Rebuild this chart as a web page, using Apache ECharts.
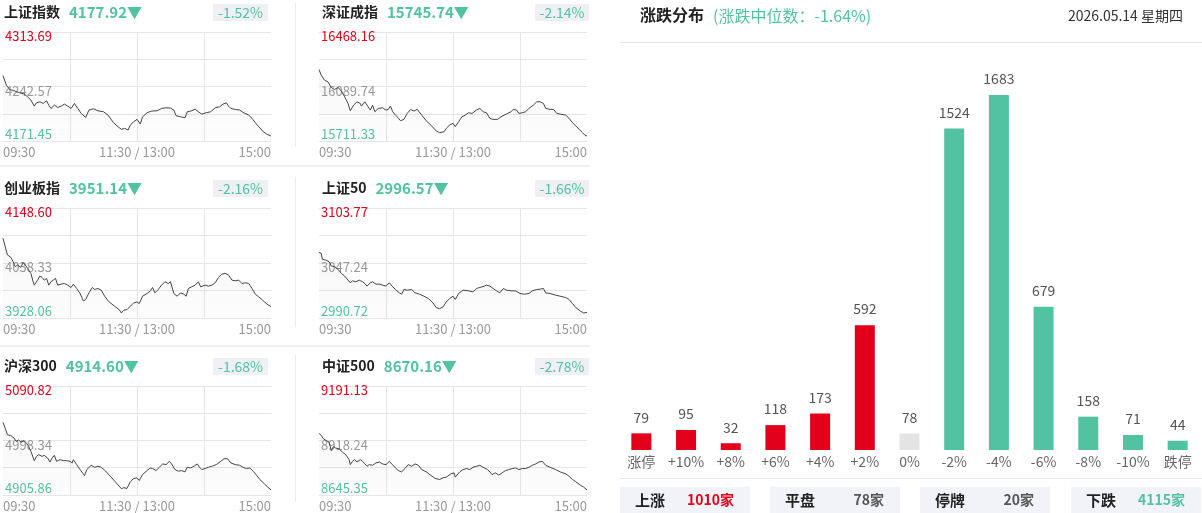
<!DOCTYPE html>
<html><head><meta charset="utf-8">
<script src="https://cdn.jsdelivr.net/npm/echarts@6/dist/echarts.min.js"></script>
<style>html,body{margin:0;padding:0;background:#fff}#c{width:1202px;height:513px}</style>
</head><body><div id="c"></div>
<script>
// ---------- data ----------
const indexNames = ['上证指数','深证成指','创业板指','上证50','沪深300','中证500'];
const indexCloses = ['4177.92','15745.74','3951.14','2996.57','4914.60','8670.16'];
const indexPcts = ['-1.52%','-2.14%','-2.16%','-1.66%','-1.68%','-2.78%'];
const axisHighs = [4313.69,16468.16,4148.60,3103.77,5090.82,9191.13];
const axisPrevs = [4242.57,16089.74,4038.33,3047.24,4998.34,8918.24];
const axisLows  = [4171.45,15711.33,3928.06,2990.72,4905.86,8645.35];
const timeTickLabels = ['09:30','11:30 / 13:00','15:00'];

// [minute since 09:30 (trading minutes), price]
const lineSH = [[0,4256.88],[3,4244.30],[6,4238.67],[10,4236.93],[15,4234.33],[19,4232.60],[22,4229.13],[25,4224.79],[28,4216.98],[30,4221.32],[33,4222.62],[36,4220.45],[39,4223.92],[41,4218.28],[43,4213.95],[46,4218.28],[49,4215.25],[52,4216.98],[55,4219.59],[58,4216.98],[61,4213.95],[64,4220.45],[67,4213.95],[70,4207.44],[74,4202.24],[77,4211.78],[81,4213.51],[85,4210.91],[90,4209.61],[94,4205.28],[99,4195.30],[103,4190.10],[106,4186.63],[109,4187.93],[112,4185.76],[114,4192.26],[117,4196.60],[120,4199.64],[123,4193.57],[125,4203.11],[129,4208.31],[133,4210.48],[138,4210.91],[142,4213.95],[146,4214.82],[150,4214.38],[153,4211.78],[155,4204.41],[159,4203.11],[163,4201.81],[165,4209.61],[169,4210.91],[172,4213.08],[175,4209.61],[178,4206.58],[182,4208.31],[186,4209.61],[190,4214.82],[194,4216.12],[197,4219.59],[200,4221.32],[202,4216.98],[204,4213.95],[208,4212.65],[212,4211.78],[215,4208.74],[220,4205.28],[223,4200.94],[226,4195.30],[229,4190.10],[233,4183.59],[236,4180.56],[240,4177.92]];
const lineSZ = [[0,16207.42],[2,16168.19],[5,16133.58],[8,16122.04],[11,16082.82],[14,16068.97],[17,16082.82],[20,16059.74],[23,16018.21],[26,15972.06],[28,15921.30],[31,15960.53],[34,15983.60],[37,15972.06],[38,15953.60],[41,15983.60],[44,15948.99],[46,15925.91],[48,15960.53],[50,15914.38],[53,15937.45],[57,15942.07],[60,15925.91],[62,15930.53],[64,15953.60],[66,15914.38],[70,15879.77],[73,15852.08],[76,15861.31],[79,15902.84],[82,15930.53],[85,15918.99],[88,15930.53],[92,15891.30],[96,15852.08],[101,15815.16],[105,15780.55],[108,15769.01],[112,15775.93],[114,15799.01],[117,15822.08],[120,15833.62],[122,15810.54],[125,15845.16],[128,15879.77],[131,15891.30],[134,15907.46],[137,15902.84],[141,15925.91],[144,15937.45],[147,15914.38],[150,15907.46],[153,15868.23],[156,15861.31],[160,15861.31],[163,15879.77],[166,15891.30],[169,15902.84],[172,15914.38],[174,15930.53],[177,15925.91],[179,15902.84],[182,15907.46],[185,15914.38],[189,15944.37],[192,15960.53],[195,15983.60],[198,15983.60],[201,15972.06],[203,15937.45],[207,15930.53],[210,15930.53],[213,15902.84],[216,15898.23],[221,15891.30],[224,15868.23],[227,15838.23],[230,15815.16],[233,15792.09],[236,15769.01],[238,15752.86],[240,15745.74]];
const lineCYB = [[0,4088.09],[2,4071.28],[4,4054.47],[7,4049.76],[9,4041.02],[11,4030.93],[13,4034.30],[16,4029.59],[18,4039.00],[20,4034.30],[22,4027.57],[25,4017.49],[27,4000.68],[28,3993.95],[31,4004.04],[33,4012.11],[35,4009.42],[37,4004.04],[39,4007.40],[41,3993.95],[43,4000.68],[45,4004.04],[47,4007.40],[49,3993.95],[52,3995.97],[55,3997.31],[58,3993.95],[61,3989.25],[63,3995.97],[66,3987.23],[69,3977.14],[72,3962.35],[74,3965.04],[77,3978.49],[80,3989.25],[82,3985.21],[85,3987.23],[88,3983.87],[91,3971.76],[95,3960.33],[100,3951.59],[104,3944.87],[106,3938.15],[108,3943.52],[111,3944.87],[114,3951.59],[117,3958.32],[120,3960.33],[122,3956.97],[125,3971.76],[129,3977.14],[132,3982.52],[134,3989.25],[136,3978.49],[139,3985.21],[142,3993.95],[145,4000.68],[148,3997.31],[150,4000.68],[153,3977.14],[156,3971.76],[159,3978.49],[162,3975.80],[164,3971.76],[166,3987.23],[169,3990.59],[172,3993.95],[175,4000.68],[177,3990.59],[181,3993.95],[184,3991.94],[187,3993.95],[190,3998.66],[193,4009.42],[196,4016.14],[199,4017.49],[202,4014.12],[205,4004.04],[208,4002.69],[211,4004.04],[214,3997.31],[217,3998.66],[220,3997.31],[223,3987.23],[226,3975.80],[229,3970.42],[232,3965.04],[235,3958.32],[238,3953.61],[240,3951.14]];
const lineSZ50 = [[0,3057.92],[2,3057.24],[3,3051.03],[6,3050.34],[9,3048.62],[11,3044.14],[14,3043.45],[17,3040.69],[20,3036.56],[23,3033.80],[26,3029.66],[28,3026.91],[30,3028.97],[33,3027.94],[36,3029.66],[39,3027.94],[41,3026.22],[43,3023.46],[46,3026.91],[48,3027.94],[51,3025.53],[54,3025.53],[57,3024.49],[60,3023.46],[63,3026.91],[66,3022.77],[69,3019.32],[72,3016.57],[74,3015.19],[76,3020.01],[79,3019.32],[83,3020.01],[86,3016.57],[90,3015.19],[94,3013.12],[98,3010.71],[102,3006.23],[105,3001.40],[108,3000.37],[111,3002.09],[112,3002.09],[114,3007.26],[117,3010.71],[120,3013.12],[122,3009.67],[125,3015.88],[129,3019.32],[134,3018.63],[138,3017.60],[141,3021.05],[144,3022.08],[148,3023.46],[150,3024.49],[153,3023.46],[156,3021.05],[159,3018.63],[162,3016.57],[165,3021.05],[168,3019.32],[172,3018.63],[176,3018.63],[180,3015.88],[184,3015.19],[188,3015.88],[191,3018.63],[195,3020.01],[198,3020.36],[201,3021.05],[203,3016.57],[207,3015.88],[212,3014.15],[216,3013.12],[221,3011.74],[224,3009.67],[227,3005.54],[230,3001.40],[234,2997.95],[237,2995.89],[240,2996.57]];
const lineHS300 = [[0,5029.17],[2,5019.08],[4,5007.87],[7,5006.75],[10,5002.26],[12,4996.66],[14,4999.46],[16,4995.54],[19,4997.78],[21,4993.86],[23,4988.25],[25,4979.84],[28,4964.15],[30,4971.44],[32,4974.24],[35,4971.44],[37,4973.12],[40,4968.63],[42,4961.91],[44,4968.63],[46,4973.12],[48,4963.03],[51,4965.83],[54,4964.15],[57,4964.15],[60,4963.03],[62,4960.23],[63,4965.83],[66,4957.42],[69,4949.02],[73,4938.93],[75,4949.02],[79,4956.30],[82,4952.94],[85,4954.62],[88,4952.94],[92,4946.22],[96,4937.81],[100,4929.40],[104,4920.99],[106,4916.51],[108,4918.19],[111,4917.07],[114,4928.28],[117,4933.88],[120,4935.01],[122,4930.52],[125,4940.61],[129,4947.34],[132,4951.82],[134,4950.70],[137,4947.34],[140,4952.94],[143,4958.55],[146,4957.42],[149,4963.03],[151,4958.55],[154,4949.02],[157,4946.22],[160,4947.34],[163,4945.09],[165,4952.94],[168,4951.82],[171,4954.62],[174,4958.55],[176,4952.94],[178,4949.02],[181,4950.70],[184,4952.94],[187,4954.62],[191,4957.42],[195,4963.03],[198,4967.51],[201,4967.51],[204,4960.23],[208,4957.42],[212,4956.30],[215,4952.94],[218,4950.70],[221,4951.82],[224,4946.22],[227,4939.49],[230,4932.20],[234,4924.92],[237,4919.31],[240,4914.60]];
const lineZZ500 = [[0,8954.63],[2,8943.05],[4,8926.51],[7,8916.59],[9,8909.97],[11,8866.97],[13,8888.47],[15,8880.20],[18,8876.89],[21,8860.35],[24,8847.12],[27,8822.31],[28,8797.51],[30,8814.05],[32,8822.31],[34,8810.74],[37,8822.31],[39,8814.05],[41,8800.81],[43,8789.24],[45,8797.51],[48,8794.20],[51,8805.78],[54,8810.74],[57,8800.81],[60,8797.51],[63,8814.05],[65,8800.81],[68,8784.28],[71,8767.74],[74,8761.12],[77,8777.66],[80,8797.51],[83,8789.24],[86,8800.81],[89,8794.20],[92,8772.70],[96,8761.12],[100,8744.58],[104,8728.04],[108,8723.08],[111,8731.35],[114,8734.66],[118,8751.20],[121,8756.16],[122,8734.66],[126,8761.12],[129,8772.70],[132,8777.66],[135,8772.70],[138,8784.28],[141,8789.24],[144,8794.20],[147,8784.28],[151,8772.70],[155,8747.89],[158,8756.16],[161,8744.58],[164,8756.16],[167,8767.74],[170,8772.70],[173,8777.66],[176,8780.97],[179,8772.70],[182,8777.66],[185,8777.66],[188,8784.28],[191,8794.20],[194,8800.81],[197,8810.74],[200,8814.05],[203,8794.20],[207,8784.28],[212,8772.70],[216,8761.12],[221,8751.20],[224,8739.62],[227,8723.08],[230,8711.50],[234,8694.97],[237,8685.04],[240,8670.16]];

const distCategories = ['涨停','+10%','+8%','+6%','+4%','+2%','0%','-2%','-4%','-6%','-8%','-10%','跌停'];
const distCounts = [79,95,32,118,173,592,78,1524,1683,679,158,71,44];
const summaryLabels = ['上涨','平盘','停牌','下跌'];
const summaryCounts = [1010,78,20,4115];
const distTitle = '涨跌分布';
const medianPct = '-1.64%';
const dateText = '2026.05.14 星期四';

// ---------- styling / layout ----------
const FONT = '"Microsoft YaHei","Noto Sans CJK SC","Noto Sans",sans-serif';
const GREEN = '#52c3a0', RED = '#e2001b', GRAYBAR = '#e4e4e4', GRID = '#e6e6e6';
const lines = [lineSH, lineSZ, lineCYB, lineSZ50, lineHS300, lineZZ500];
const colGridX = [3, 319], colTitleX = [4, 322], colBox = [[213,268],[535,589]];
const rowGridY = [32, 208, 386], rowGridH = [109, 110, 110], rowTitleY = [12, 188, 366];

const grids = [], xAxes = [], yAxes = [], series = [], graphics = [];

function txt(x, y, text, o) {
  return {type:'text', x:x, y:y, silent:true, z:10,
    style:Object.assign({text:text, fill:'#333', fontSize:14, fontFamily:FONT,
      align:'left', verticalAlign:'middle', textAlign:'left', textVerticalAlign:'middle'}, o || {})};
}
function rect(x, y, w, h, fill) {
  return {type:'rect', silent:true, z:5, shape:{x:x, y:y, width:w, height:h}, style:{fill:fill}};
}
function hline(x1, x2, y, stroke, w) {
  return {type:'line', silent:true, z:5, shape:{x1:x1, y1:y, x2:x2, y2:y}, style:{stroke:stroke, lineWidth:w||1}};
}
function vline(x, y1, y2, stroke) {
  return {type:'line', silent:true, z:5, shape:{x1:x, y1:y1, x2:x, y2:y2}, style:{stroke:stroke, lineWidth:1}};
}

lines.forEach(function (data, i) {
  const col = i % 2, row = Math.floor(i / 2);
  const half = (axisHighs[i] - axisLows[i]) / 2;
  grids.push({left: colGridX[col], top: rowGridY[row], width: 268, height: rowGridH[row]});
  xAxes.push({
    gridIndex: i, type: 'value', min: 0, max: 240, interval: 60,
    axisLine: {show: false}, axisTick: {show: false},
    splitLine: {show: true, showMinLine: false, showMaxLine: false, lineStyle: {color: GRID, width: 1}},
    axisLabel: {
      margin: 5, color: '#999', fontSize: 13, fontFamily: FONT,
      alignMinLabel: 'left', alignMaxLabel: 'right', showMinLabel: true, showMaxLabel: true,
      formatter: function (v) {
        if (v === 0) return timeTickLabels[0];
        if (v === 120) return timeTickLabels[1];
        if (v === 240) return timeTickLabels[2];
        return '';
      }
    }
  });
  yAxes.push({
    gridIndex: i, type: 'value', min: -2, max: 2, interval: 1,
    axisLine: {show: false}, axisTick: {show: false},
    splitLine: {show: true, lineStyle: {color: GRID, width: 1}},
    axisLabel: {
      inside: true, margin: 2, fontSize: 13, fontFamily: FONT,
      showMinLabel: true, showMaxLabel: true,
      formatter: function (v) {
        if (v === 2) return '{hi|' + axisHighs[i].toFixed(2) + '}';
        if (v === 0) return '{mid|' + axisPrevs[i].toFixed(2) + '}';
        if (v === -2) return '{lo|' + axisLows[i].toFixed(2) + '}';
        return '';
      },
      rich: {
        hi: {color: RED, fontSize: 13, fontFamily: FONT, padding: [8, 0, 0, 0]},
        mid: {color: '#999', fontSize: 13, fontFamily: FONT, padding: [9, 0, 0, 0]},
        lo: {color: GREEN, fontSize: 13, fontFamily: FONT, padding: [0, 0, 14, 0]}
      }
    }
  });
  series.push({
    type: 'line', xAxisIndex: i, yAxisIndex: i, silent: true,
    data: data.map(function (p) { return [p[0], (p[1] - axisPrevs[i]) / half * 2]; }),
    showSymbol: false, symbol: 'none',
    lineStyle: {color: '#444', width: 1},
    areaStyle: {origin: 'start', color: new echarts.graphic.LinearGradient(0, 0, 0, 1, [
      {offset: 0, color: 'rgba(160,160,160,0.13)'}, {offset: 1, color: 'rgba(160,160,160,0.03)'}])}
  });

  // header of the mini chart
  const ty = rowTitleY[row];
  graphics.push(txt(colTitleX[col], ty, '{n|' + indexNames[i] + '}{v|' + indexCloses[i] + '▼}', {
    rich: {
      n: {fontSize: 14, fontWeight: 'bold', fill: '#222', color: '#222', fontFamily: FONT},
      v: {fontSize: 15, fontWeight: 'bold', fill: GREEN, color: GREEN, fontFamily: FONT, padding: [0, 0, 0, 9]}
    }
  }));
  const b = colBox[col];
  graphics.push(rect(b[0], ty - 8, b[1] - b[0], 17, '#eef0f4'));
  graphics.push(txt((b[0] + b[1]) / 2, ty + 0.5, indexPcts[i], {fill: GREEN, fontSize: 14, align: 'center', textAlign: 'center'}));
});

// separators of the left panel
graphics.push(hline(0, 590, 166, '#f0f0f0', 2));
graphics.push(hline(0, 590, 346, '#f0f0f0', 2));
graphics.push(vline(295.5, 3, 147, '#ececec'));
graphics.push(vline(295.5, 177, 327, '#ececec'));
graphics.push(vline(295.5, 355, 502, '#ececec'));

// right panel header
graphics.push(txt(640, 15, distTitle, {fontSize: 16, fontWeight: 'bold', fill: '#222'}));
graphics.push(txt(713, 16, '(涨跌中位数：' + medianPct + ')', {fontSize: 16, fill: GREEN}));
graphics.push(txt(1183, 16, dateText, {fontSize: 14, fill: '#333', align: 'right', textAlign: 'right'}));
graphics.push(hline(620, 1202, 42.5, '#e8e8e8', 1));
graphics.push(hline(620, 1202, 478.5, '#e8e8e8', 1));

// summary boxes
const boxX = [620, 770, 920, 1071];
const sumColors = [RED, '#555', '#555', GREEN];
summaryLabels.forEach(function (lab, k) {
  const x = boxX[k];
  graphics.push(rect(x, 487, 130, 26, '#f2f3f8'));
  graphics.push(txt(x + 15, 500, lab, {fontSize: 15, fontWeight: 'bold', fill: '#222'}));
  graphics.push(txt(x + 114, 500, summaryCounts[k] + '家', {fontSize: 14, fontWeight: 'bold', fill: sumColors[k], align: 'right', textAlign: 'right'}));
});

// distribution bar chart
grids.push({left: 619, top: 95, width: 581, height: 355});
xAxes.push({
  gridIndex: 6, type: 'category', data: distCategories,
  axisLine: {show: false}, axisTick: {show: false}, splitLine: {show: false},
  axisLabel: {interval: 0, color: '#666', fontSize: 14, margin: 5, fontFamily: FONT}
});
yAxes.push({gridIndex: 6, type: 'value', min: 0, max: 'dataMax', show: false, splitLine: {show: false}});
series.push({
  type: 'bar', xAxisIndex: 6, yAxisIndex: 6, barWidth: 20, silent: true,
  data: distCounts.map(function (v, k) {
    return {value: v, itemStyle: {color: k < 6 ? RED : (k === 6 ? GRAYBAR : GREEN)}};
  }),
  label: {show: true, position: 'top', distance: 9, color: '#555', fontSize: 14, fontFamily: FONT}
});

const chart = echarts.init(document.getElementById('c'));
chart.setOption({
  animation: false,
  textStyle: {fontFamily: FONT},
  grid: grids, xAxis: xAxes, yAxis: yAxes, series: series,
  graphic: {elements: graphics}
});
</script>
</body></html>
